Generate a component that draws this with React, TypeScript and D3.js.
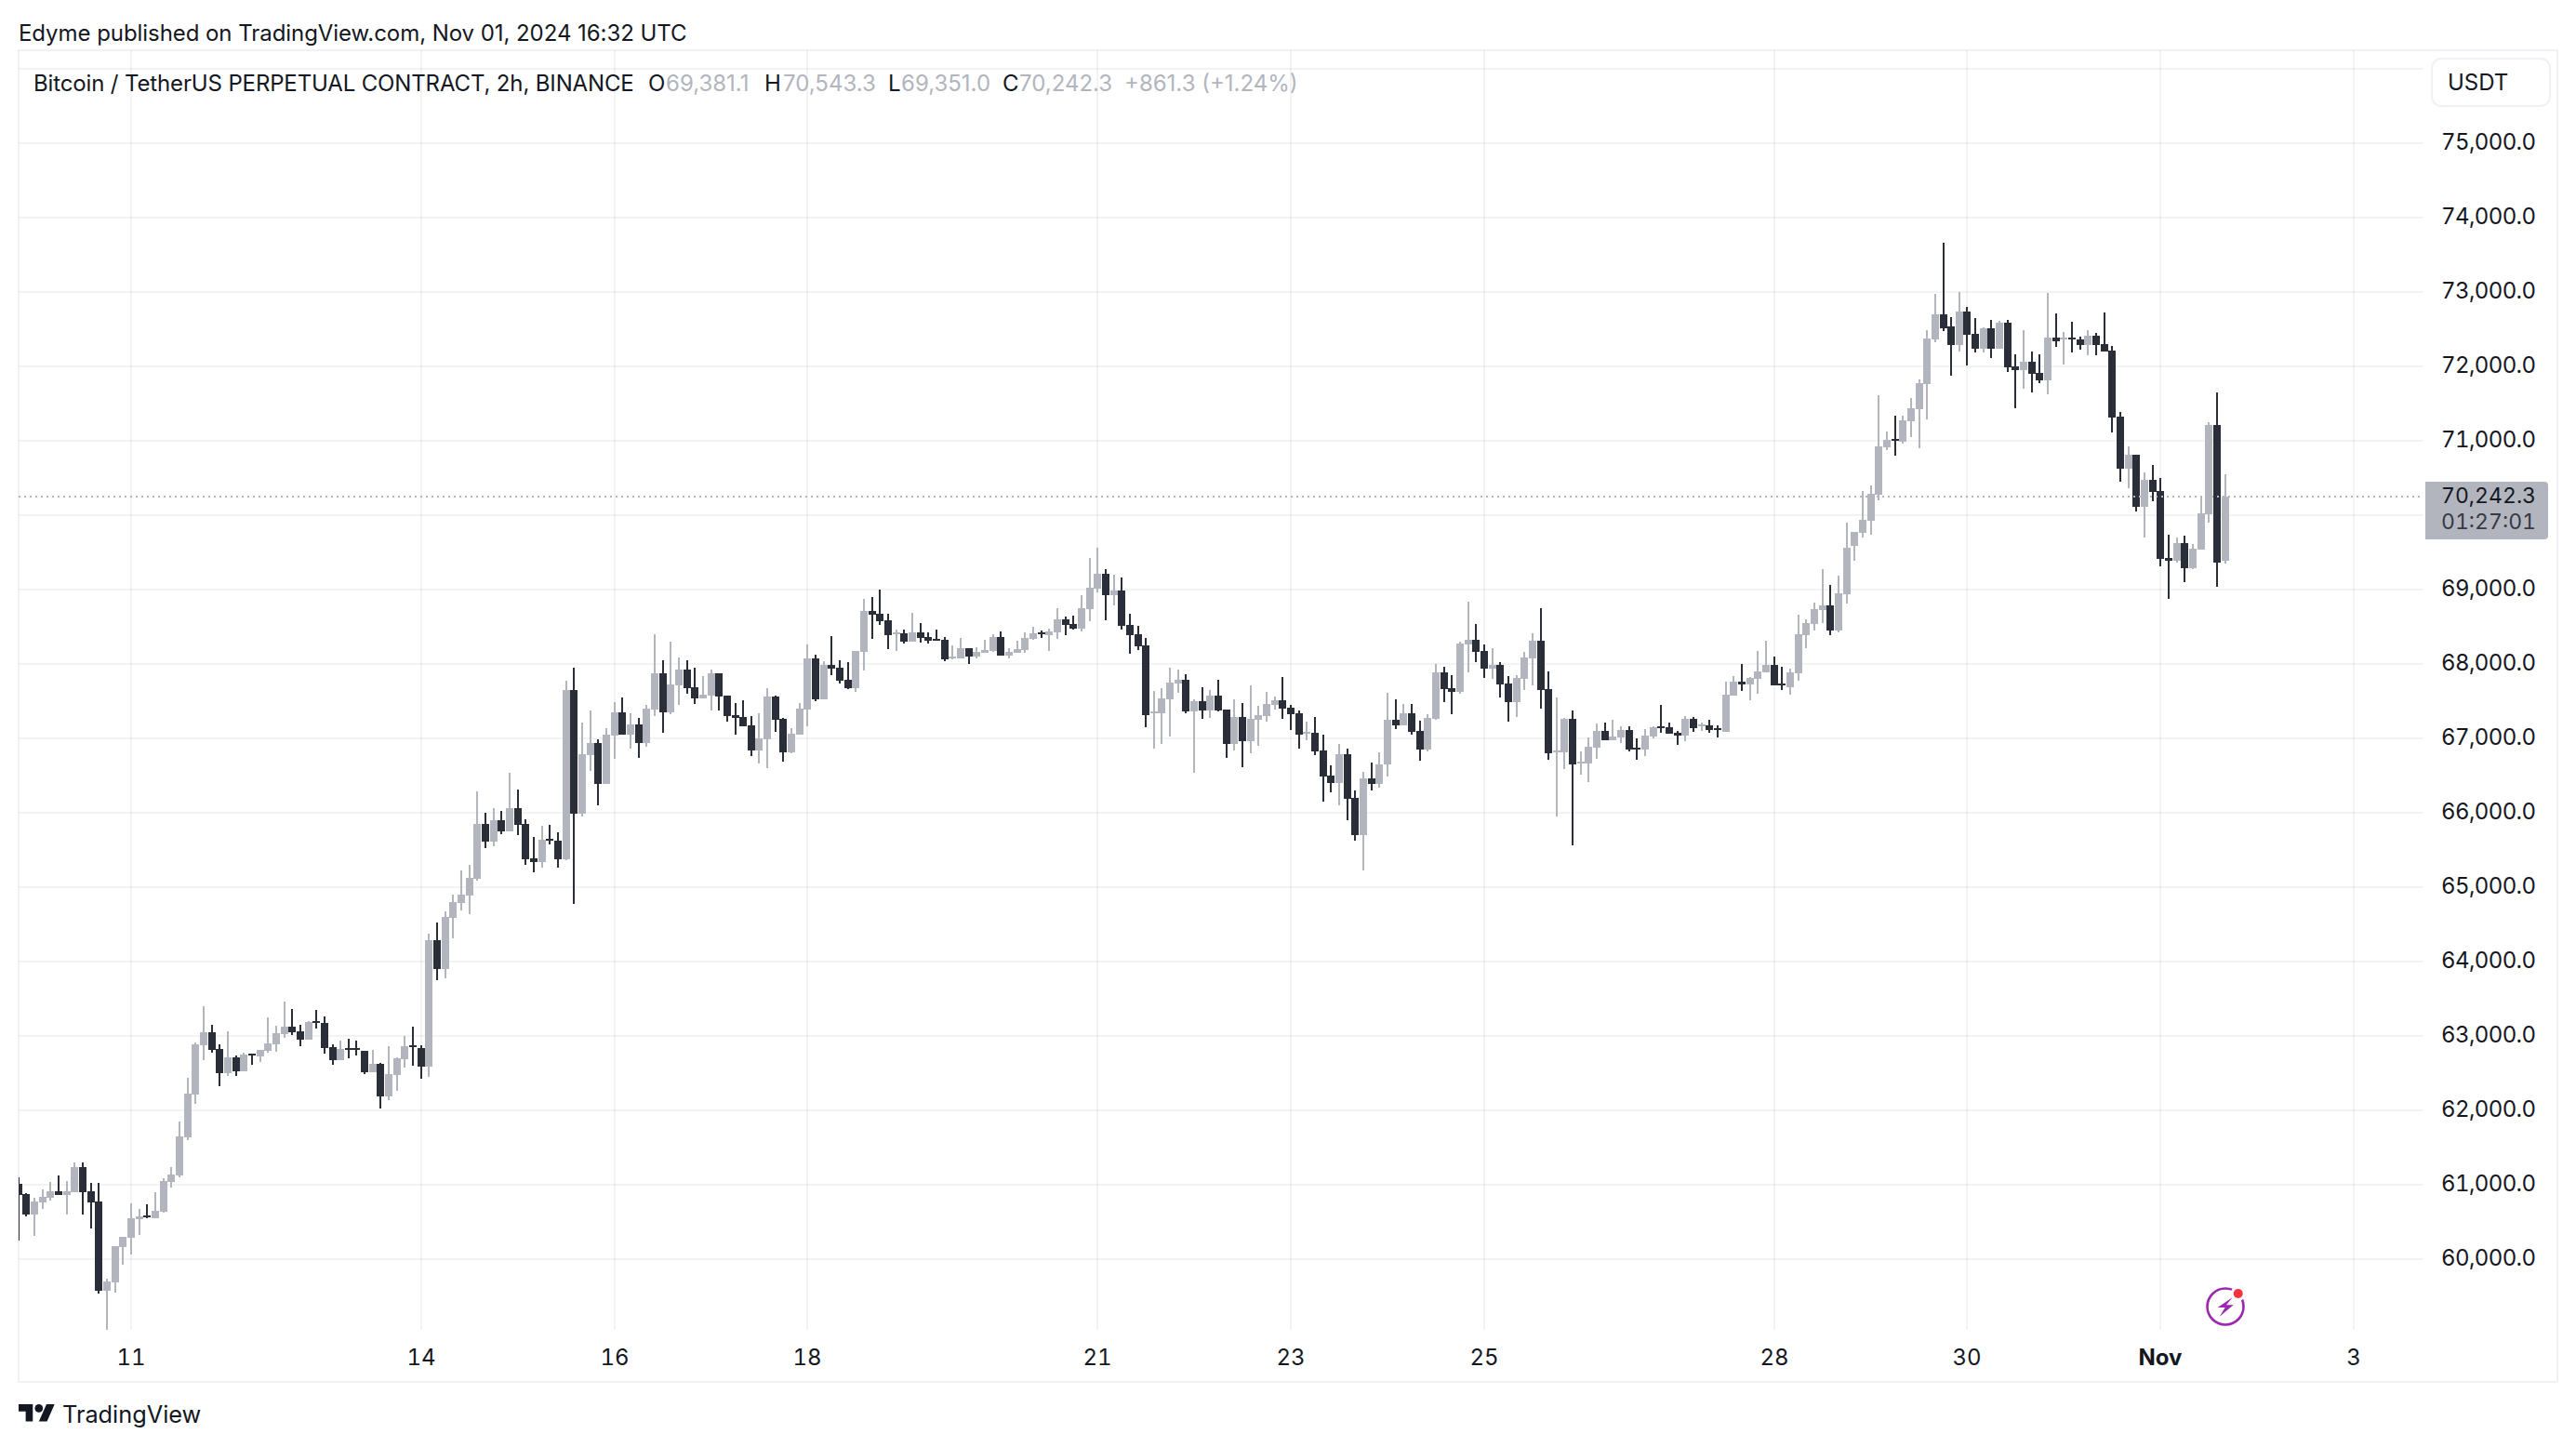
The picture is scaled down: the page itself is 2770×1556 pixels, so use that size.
/**
 * BTCUSDT.P 2h candles, TradingView snapshot style.
 * D3 only does the scales, React draws the SVG.
 */
import * as d3 from 'd3'

const W = 2770
const H = 1556

const opens = [
  61010,60870,60600,60760,60820,60910,60860,60900,61230,60910,
  60770,59570,59680,60160,60280,60530,60580,60550,60630,61030,
  61120,61630,62210,62870,63050,62820,62500,62710,62520,62760,
  62720,62800,62880,63020,63120,63060,62950,63200,63170,62850,
  62670,62830,62830,62800,62510,62620,62180,62470,62680,62870,
  62830,62580,64280,63900,64580,64780,64880,65110,65850,65610,
  65900,65750,66060,65850,65380,65330,65650,65620,65370,67650,
  65980,66770,66930,66380,67030,67350,67050,67180,66930,67380,
  67870,67350,67710,67920,67680,67530,67570,67870,67570,67310,
  67280,67170,66830,66980,67560,67260,66810,67050,67380,68070,
  67520,67980,67950,67780,67670,68160,68710,68670,68580,68400,
  68410,68300,68420,68360,68330,68320,68070,68070,68210,68100,
  68150,68170,68360,68110,68150,68180,68330,68420,68380,68420,
  68600,68530,68470,68730,69010,69210,68920,68980,68520,68400,
  68250,67330,67330,67520,67730,67780,67360,67500,67370,67570,
  67380,66920,67280,66960,67250,67300,67450,67510,67410,67330,
  67060,67070,66830,66490,66400,66780,66190,65700,66460,66380,
  66640,67250,67170,67330,67100,66850,67260,67880,67670,67620,
  68260,68320,68170,67930,67980,67730,67480,67800,68070,68310,
  67660,66810,66810,67260,66660,66660,66870,67100,66970,67010,
  67110,66870,66850,67020,67160,67150,67070,67030,67260,67160,
  67170,67130,67080,67570,67760,67720,67800,67880,67980,67730,
  67680,67870,68380,68530,68720,68780,68450,68930,69580,69760,
  69920,70270,70910,71020,70980,71260,71420,71760,72360,72700,
  72530,72280,72730,72430,72230,72510,72230,72580,72000,71950,
  72060,71910,71810,72380,72360,72380,72360,72280,72410,72300,
  72210,71320,70620,70810,70110,70470,70320,69420,69380,69620,
  69280,69530,70010,71210,69381.1,
]
const highs = [
  61100,60880,60820,60930,61030,61120,61050,61300,61300,61020,
  61020,59730,60170,60300,60750,60670,60730,60900,61080,61230,
  61850,62430,62910,63400,63150,62880,63060,62730,62770,62760,
  62810,63250,63130,63460,63360,63150,63200,63350,63260,62880,
  62930,62960,62930,62800,62810,62630,62860,62710,63000,63120,
  62870,64370,64520,64670,64900,65220,65300,66280,66000,66060,
  66020,66530,66310,65910,65670,65820,65830,65730,67770,67950,
  67210,67370,66980,67130,67480,67550,67330,67270,67450,68400,
  68050,68300,68080,68050,67950,67830,67920,67870,67570,67470,
  67510,67300,67330,67670,67570,67270,67130,67470,68260,68120,
  68030,68370,68050,68020,68170,68870,68900,69000,68670,68460,
  68460,68680,68550,68420,68460,68360,68250,68350,68210,68220,
  68320,68400,68430,68210,68310,68420,68500,68450,68470,68750,
  68630,68650,68920,69420,69560,69270,69200,69160,68670,68510,
  68350,67630,67670,67950,67920,67860,67520,67680,67650,67780,
  67380,67520,67470,67710,67430,67620,67560,67820,67450,67370,
  67220,67280,67050,66630,66920,66860,66290,66540,66670,66810,
  67610,67520,67460,67460,67230,67320,68000,67960,67850,68300,
  68830,68530,68260,68210,68020,67830,67850,68160,68410,68750,
  67900,67550,67270,67370,66820,67010,67200,67210,67250,67160,
  67160,67000,67120,67160,67450,67210,67100,67300,67280,67210,
  67250,67170,67760,67830,68000,67820,68170,68310,68100,67960,
  67930,68660,68600,68820,69270,69060,69180,69900,69770,70320,
  70400,71610,71120,71330,71330,71570,71820,72480,72970,73660,
  72660,73000,72800,72650,72520,72620,72610,72620,72160,72480,
  72200,72160,72980,72710,72460,72600,72400,72480,72450,72720,
  72270,71380,70920,70810,70570,70670,70500,69730,69700,69720,
  69610,70250,71250,71650,70543.3,
]
const lows = [
  60250,60570,60310,60670,60780,60860,60600,60900,60600,60410,
  59530,59050,59550,59920,60060,60320,60550,60550,60620,60960,
  61100,61600,62080,62670,62770,62320,62460,62460,62520,62610,
  62650,62770,62780,62970,63010,62860,62950,63100,62760,62610,
  62670,62700,62730,62480,62510,62020,62130,62260,62570,62600,
  62420,62450,63750,63770,64310,64680,64630,65080,65520,65550,
  65710,65750,65700,65300,65200,65260,65570,65260,65360,64770,
  65950,66560,66100,66380,66720,67050,66860,66730,66880,67300,
  67070,67320,67450,67600,67460,67530,67370,67370,67220,67050,
  67160,66760,66660,66600,67080,66680,66800,67050,67160,67500,
  67520,67850,67730,67660,67620,67910,68330,68520,68200,68170,
  68270,68300,68280,68270,68310,68030,68060,68070,68000,68070,
  68150,68160,68110,68070,68150,68150,68320,68350,68170,68330,
  68380,68460,68430,68570,68960,68580,68780,68460,68130,68180,
  67150,66860,66920,67020,67610,67330,66530,67260,67270,67360,
  66730,66830,66610,66800,66900,67220,67380,67260,67110,66860,
  66970,66770,66150,66270,66100,65900,65620,65220,66300,66330,
  66480,67120,67170,67050,66700,66820,67250,67480,67320,67600,
  67880,68020,67810,67800,67550,67220,67280,67650,67710,67400,
  66710,65950,66580,65560,66510,66410,66720,66970,66970,66930,
  66820,66710,66760,67000,67070,67060,66910,66960,67080,67100,
  67070,67010,67080,67570,67630,67510,67600,67880,67710,67650,
  67580,67770,68210,68450,68550,68380,68420,68810,69380,69700,
  69730,70200,70870,70800,70960,71050,70900,71280,72320,72470,
  71870,72200,72010,72180,72180,72110,72230,71920,71430,71700,
  71650,71770,71620,72260,72020,72180,72220,72150,72150,72200,
  71110,70450,70360,70050,69700,70180,69310,68870,69360,69100,
  69270,69530,69900,69030,69351.0,
]
const closes = [
  60860,60600,60770,60830,60910,60860,60910,61230,60900,60760,
  59570,59700,60170,60300,60550,60570,60560,60650,61050,61130,
  61650,62220,62880,63050,62810,62500,62710,62520,62750,62730,
  62810,62900,63030,63120,63050,62950,63180,63170,62830,62670,
  62820,62810,62810,62510,62620,62180,62480,62700,62860,62850,
  62580,64280,63900,64600,64800,64900,65120,65850,65610,65900,
  65750,66060,65830,65370,65330,65630,65620,65370,67650,65980,
  66780,66930,66380,67050,67350,67050,67180,66930,67400,67870,
  67350,67720,67920,67670,67530,67580,67870,67560,67300,67270,
  67160,66830,67000,67560,67250,66810,67060,67400,68070,67520,
  67980,67930,67770,67670,68170,68710,68660,68570,68380,68420,
  68300,68420,68350,68310,68310,68060,68100,68210,68100,68160,
  68180,68360,68110,68160,68200,68350,68410,68400,68430,68600,
  68520,68470,68750,69020,69210,68920,68980,68510,68380,68230,
  67310,67360,67530,67750,67780,67360,67500,67370,67570,67370,
  66920,67280,66960,67260,67310,67460,67510,67400,67320,67050,
  67080,66820,66480,66400,66780,66180,65700,66460,66380,66650,
  67250,67170,67330,67080,66850,67270,67880,67660,67620,68270,
  68320,68160,67930,67980,67720,67480,67810,68080,68310,67650,
  66800,66830,67260,66650,66680,66880,67100,66970,67020,67110,
  66850,66850,67030,67150,67130,67060,67030,67260,67130,67180,
  67110,67110,67580,67760,67720,67810,67900,67980,67710,67710,
  67880,68400,68550,68730,68780,68450,68950,69560,69770,69930,
  70280,70920,71010,71000,71270,71430,71770,72370,72700,72510,
  72280,72730,72420,72230,72510,72230,72580,71980,71950,72060,
  71900,71810,72380,72330,72380,72360,72280,72410,72280,72200,
  71310,70620,70810,70110,70470,70310,69410,69380,69620,69280,
  69550,70020,71210,69360,70242.3,
]

const firstBar = Date.UTC(2024, 9, 9, 20)
const TWO_H = 2 * 3600 * 1000

const priceTicks = d3.range(60000, 76000, 1000)
const gridPrices = d3.range(60000, 77000, 1000)
const lastPrice = 70242.3

const dayLabels = ['11', '14', '16', '18', '21', '23', '25', '28', '30', 'Nov', '3']
const dayDates = [
  Date.UTC(2024, 9, 11), Date.UTC(2024, 9, 14), Date.UTC(2024, 9, 16), Date.UTC(2024, 9, 18),
  Date.UTC(2024, 9, 21), Date.UTC(2024, 9, 23), Date.UTC(2024, 9, 25), Date.UTC(2024, 9, 28),
  Date.UTC(2024, 9, 30), Date.UTC(2024, 10, 1), Date.UTC(2024, 10, 3),
]

const UP = '#B2B5BE'
const DOWN = '#2A2E39'
const INK = '#131722'
const GRID = 'rgba(42,46,57,0.06)'
const EDGE = '#F0F0F6'
const FONT = 'Inter, sans-serif'

const PANE = { left: 20, top: 54, right: 2606, bottom: 1430 }
const FRAME = { left: 20, top: 54, right: 2750, bottom: 1486 }
const AXIS_TEXT = { x: 2625, width: 102 }

const BAR_STEP = 8.66
const x = d3.scaleUtc()
  .domain([firstBar, firstBar + TWO_H * 274])
  .range([19.76, 19.76 + 274 * BAR_STEP])
const y = d3.scaleLinear().domain([60000, 75000]).range([1353.67, 153.67])

const fmt = d3.format(',.1f')

// legend pieces, [text, x, color]
const legend: [string, number, string][] = [
  ['Bitcoin / TetherUS PERPETUAL CONTRACT, 2h, BINANCE', 36, INK],
  ['O', 697, INK], ['69,381.1', 716, UP],
  ['H', 822, INK], ['70,543.3', 842, UP],
  ['L', 955, INK], ['69,351.0', 969, UP],
  ['C', 1078, INK], ['70,242.3', 1096, UP],
  ['+861.3 (+1.24%)', 1209, UP],
]

export default function App() {
  const bars = opens.map((o, i) => ({
    t: firstBar + i * TWO_H, o, h: highs[i], l: lows[i], c: closes[i],
  }))
  const lastY = Math.round(y(lastPrice))

  return (
    <svg
      width={W}
      height={H}
      viewBox={`0 0 ${W} ${H}`}
      style={{ position: 'fixed', left: 0, top: 0, background: '#fff', display: 'block' }}
      fontFamily={FONT}
    >
      <defs>
        <clipPath id="pane-clip">
          <rect x={PANE.left} y={PANE.top} width={PANE.right - PANE.left} height={PANE.bottom - PANE.top} />
        </clipPath>
      </defs>

      <text x={20} y={44} fontSize={24} fill={INK} letterSpacing={-0.06}>
        Edyme published on TradingView.com, Nov 01, 2024 16:32 UTC
      </text>

      {/* frame */}
      <rect
        x={FRAME.left} y={FRAME.top}
        width={FRAME.right - FRAME.left} height={FRAME.bottom - FRAME.top}
        fill="none" stroke={EDGE} strokeWidth={2} shapeRendering="crispEdges"
      />

      {/* grid */}
      <g shapeRendering="crispEdges" stroke={GRID} strokeWidth={2}>
        {gridPrices.map(p => (
          <line key={p} x1={PANE.left} x2={PANE.right} y1={Math.round(y(p))} y2={Math.round(y(p))} />
        ))}
        {dayDates.map(d => (
          <line key={d} x1={Math.round(x(d))} x2={Math.round(x(d))} y1={PANE.top} y2={PANE.bottom} />
        ))}
      </g>

      {/* candles */}
      <g clipPath="url(#pane-clip)" shapeRendering="crispEdges">
        {bars.map(b => {
          const cx = Math.round(x(b.t))
          const color = b.c >= b.o ? UP : DOWN
          const top = Math.round(y(Math.max(b.o, b.c)))
          const bot = Math.round(y(Math.min(b.o, b.c)))
          const wickTop = Math.round(y(b.h))
          const wickBot = Math.round(y(b.l))
          return (
            <g key={b.t} fill={color}>
              <rect x={cx - 1} y={wickTop} width={2} height={Math.max(wickBot - wickTop, 2)} />
              <rect x={cx - 4} y={top} width={8} height={Math.max(bot - top, 2)} />
            </g>
          )
        })}
      </g>

      {/* last price line */}
      <line
        x1={PANE.left} x2={PANE.right} y1={lastY} y2={lastY}
        stroke={UP} strokeWidth={2} strokeDasharray="2,4" shapeRendering="crispEdges"
      />

      {/* legend */}
      <g fontSize={24}>
        {legend.map(([t, lx, c], i) => (
          <text key={t} x={lx} y={98} fill={c} letterSpacing={i === 0 ? -0.14 : 0}>{t}</text>
        ))}
      </g>

      {/* price axis */}
      <g fontSize={24} fill={INK} style={{ fontVariantNumeric: 'tabular-nums' }}>
        {priceTicks.map(p => (
          <text key={p} x={AXIS_TEXT.x} y={y(p)} dy="0.3em" textLength={AXIS_TEXT.width}>{fmt(p)}</text>
        ))}
      </g>

      {/* currency button */}
      <rect x={2615} y={63} width={127} height={51} rx={10} fill="#fff" stroke={EDGE} strokeWidth={2} />
      <text x={2632} y={97} fontSize={24} fill={INK}>USDT</text>

      {/* last price tag */}
      <path d="M2608,518 H2736 a4,4 0 0 1 4,4 V576 a4,4 0 0 1 -4,4 H2608 Z" fill={UP} />
      <g fontSize={23} style={{ fontVariantNumeric: 'tabular-nums' }}>
        <text x={AXIS_TEXT.x} y={541} fill={INK} textLength={AXIS_TEXT.width}>{fmt(lastPrice)}</text>
        <text x={AXIS_TEXT.x} y={569} fill="#363A45" textLength={AXIS_TEXT.width}>01:27:01</text>
      </g>

      {/* time axis */}
      <g fontSize={24} fill={INK} textAnchor="middle" style={{ fontVariantNumeric: 'tabular-nums' }}>
        {dayLabels.map((l, i) => (
          <text key={l} x={Math.round(x(dayDates[i]))} y={1468} fontWeight={l === 'Nov' ? 700 : 400}>{l}</text>
        ))}
      </g>

      {/* bolt badge */}
      <g transform="translate(2393,1405)">
        <circle r={19.5} fill="#fff" stroke="#9C27B0" strokeWidth={2.6} />
        <path d="M7.7,-10 L-8.3,1 L-0.3,1 L-6.3,10.7 L8.7,-1.7 L1,-1.7 Z" fill="#9C27B0" />
        <circle cx={13.7} cy={-14} r={8} fill="#fff" />
        <circle cx={13.7} cy={-14} r={5} fill="#F7323F" />
      </g>

      {/* logo */}
      <g transform="translate(20,1505.7) scale(1.09)" fill={INK}>
        <path d="M14 21H7V11H0V4h14v17zM28 21h-8l7.5-17h8L28 21z" />
        <circle cx={20} cy={8} r={4} />
      </g>
      <text x={67} y={1530} fontSize={25.3} fill={INK}>TradingView</text>
    </svg>
  )
}
